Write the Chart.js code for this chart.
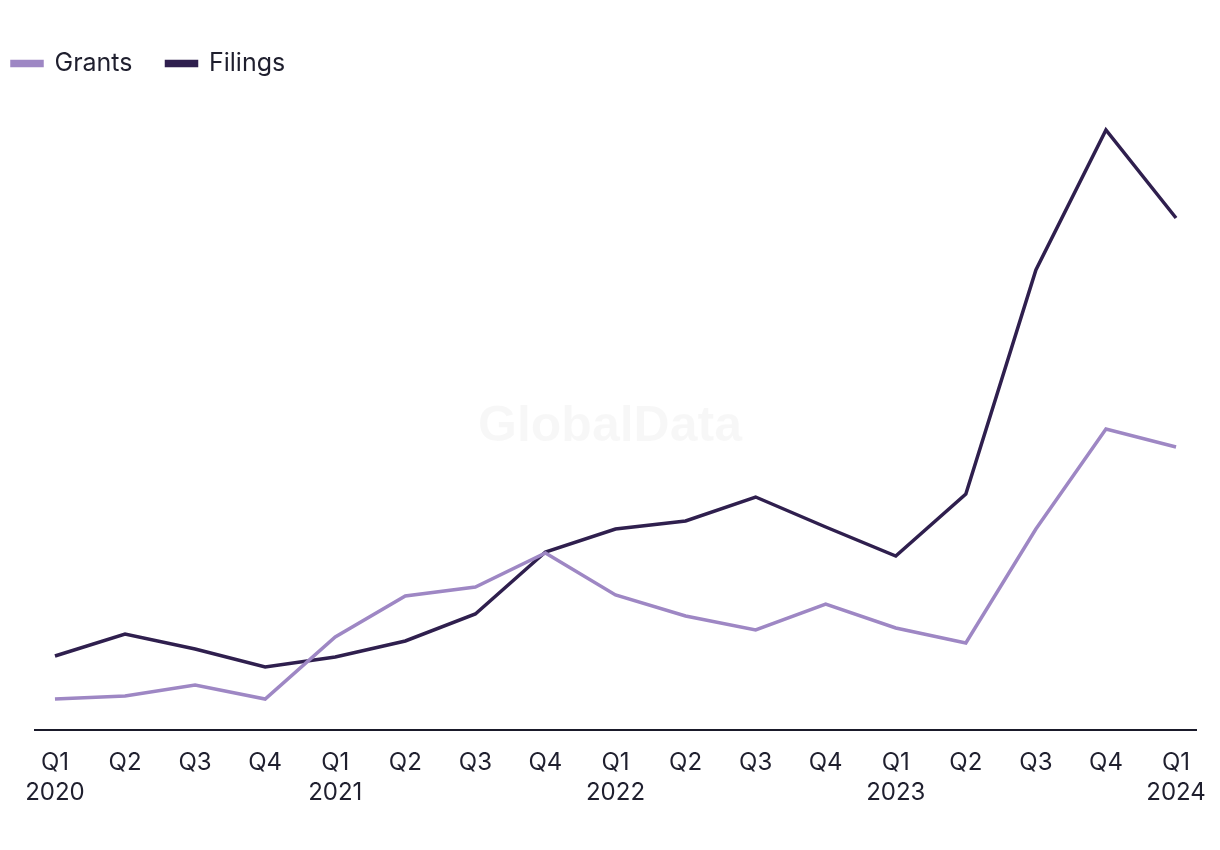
<!DOCTYPE html>
<html>
<head>
<meta charset="utf-8">
<script src="https://cdn.jsdelivr.net/npm/chart.js@4.4.1/dist/chart.umd.min.js"></script>
<style>
  html, body { margin: 0; padding: 0; background: #ffffff; }
  #wrap { width: 1220px; height: 850px; position: relative; }
</style>
</head>
<body>
<div id="wrap"><canvas id="c" width="1220" height="850"></canvas></div>
<script>
const quarters = ["Q1","Q2","Q3","Q4","Q1","Q2","Q3","Q4","Q1","Q2","Q3","Q4","Q1","Q2","Q3","Q4","Q1"];
const years    = ["2020","","","","2021","","","","2022","","","","2023","","","","2024"];
const grants   = [31, 34, 45, 31, 93, 134, 143, 177, 135, 114, 100, 126, 102, 87, 201, 301, 283];
const filings  = [74, 96, 81, 63, 73, 89, 116, 178, 201, 209, 233, 203, 174, 236, 460, 600, 512];

const toPoints = arr => arr.map((v, i) => ({ x: i, y: v }));

const watermark = {
  id: 'watermark',
  beforeDatasetsDraw(chart) {
    const { ctx } = chart;
    ctx.save();
    ctx.font = 'bold 50px "Liberation Sans", Arial, sans-serif';
    ctx.fillStyle = 'rgba(0,0,0,0.03)';
    ctx.textAlign = 'center';
    ctx.textBaseline = 'middle';
    ctx.fillText('GlobalData', 610, 427);
    ctx.restore();
  }
};

new Chart(document.getElementById('c'), {
  type: 'line',
  data: {
    datasets: [
      { label: 'Grants', data: toPoints(grants), borderColor: '#9e87c4', backgroundColor: '#9e87c4', borderWidth: 3.5, pointRadius: 0, tension: 0 },
      { label: 'Filings', data: toPoints(filings), borderColor: '#2f1f4e', backgroundColor: '#2f1f4e', borderWidth: 3.5, pointRadius: 0, tension: 0 }
    ]
  },
  options: {
    responsive: false,
    animation: false,
    layout: { padding: { left: -22, right: 24, top: 17, bottom: 24 } },
    plugins: {
      legend: {
        position: 'top',
        align: 'start',
        labels: {
          boxWidth: 30,
          boxHeight: 4,
          padding: 34,
          color: '#1f1f2e',
          font: { family: 'Inter, "Noto Sans", sans-serif', size: 25 }
        }
      },
      tooltip: { enabled: false }
    },
    scales: {
      x: {
        type: 'linear',
        min: -0.285,
        max: 16.285,
        afterBuildTicks(scale) {
          scale.ticks = quarters.map((q, i) => ({ value: i }));
        },
        afterFit(scale) {
          scale.paddingLeft = 0;
          scale.paddingRight = 0;
        },
        ticks: {
          autoSkip: false,
          maxRotation: 0,
          padding: 18,
          color: '#1f1f2e',
          font: { family: 'Inter, "Noto Sans", sans-serif', size: 24, lineHeight: 1.25 },
          callback: (v) => {
            const i = Math.round(v);
            return years[i] ? [quarters[i], years[i]] : quarters[i];
          }
        },
        grid: { display: false, drawTicks: false },
        border: { display: true, color: '#1a1a2a', width: 2 }
      },
      y: {
        display: true,
        min: 0,
        max: 644,
        afterFit(scale) { scale.width = 57; },
        ticks: { display: false },
        grid: { display: false, drawTicks: false },
        border: { display: false }
      }
    }
  },
  plugins: [watermark]
});
</script>
</body>
</html>
